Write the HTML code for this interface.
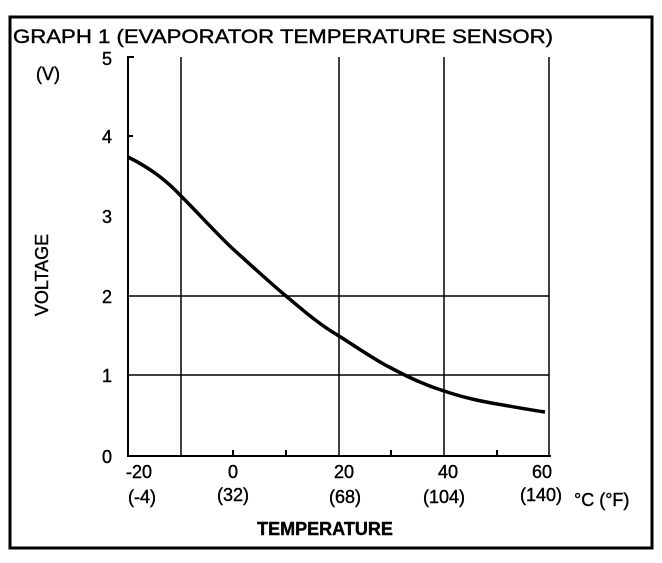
<!DOCTYPE html>
<html><head><style>
body{margin:0;background:#fff;}
svg text{font-family:"Liberation Sans",sans-serif;fill:#000;stroke:#000;stroke-width:0.4;}
</style></head><body>
<svg width="662" height="558" viewBox="0 0 662 558" xmlns="http://www.w3.org/2000/svg">
<rect x="10" y="17" width="642" height="531" fill="none" stroke="#000" stroke-width="3"/>
<text x="13" y="43" font-size="19" textLength="540" lengthAdjust="spacingAndGlyphs">GRAPH 1 (EVAPORATOR TEMPERATURE SENSOR)</text>
<text x="36" y="80" font-size="18">(V)</text>
<g font-size="18" text-anchor="middle">
<text x="107" y="65">5</text><text x="107" y="143">4</text><text x="107" y="223">3</text>
<text x="107" y="303">2</text><text x="107" y="382">1</text><text x="107" y="463">0</text>
</g>
<text transform="translate(48,275) rotate(-90)" font-size="18" text-anchor="middle">VOLTAGE</text>
<g stroke="#000" stroke-width="2" fill="none">
<line x1="128" y1="56" x2="128" y2="456"/>
<line x1="127" y1="456" x2="551" y2="456"/>
<line x1="128" y1="57" x2="134" y2="57"/>
<line x1="128" y1="136" x2="133" y2="136"/>
</g>
<g stroke="#000" stroke-width="1.5">
<line x1="181" y1="57" x2="181" y2="456"/>
<line x1="339" y1="57" x2="339" y2="456"/>
<line x1="444" y1="57" x2="444" y2="456"/>
<line x1="549" y1="57" x2="549" y2="456"/>
<line x1="128" y1="296" x2="549" y2="296"/>
<line x1="128" y1="375" x2="549" y2="375"/>
<line x1="233" y1="456" x2="233" y2="450" stroke-width="2"/>
<line x1="286" y1="456" x2="286" y2="450" stroke-width="2"/>
<line x1="391" y1="456" x2="391" y2="450" stroke-width="2"/>
<line x1="497" y1="456" x2="497" y2="450" stroke-width="2"/>
</g>
<path d="M128,157 C150,168 166,180 181,196 C200,215 215,232 233,249 C252,266 268,281 286,296 C305,312 320,325 339,336 C358,348 375,360 391,368 C410,378 425,385 444,391 C465,398 480,401 497,404 C515,407 530,410 545,412" fill="none" stroke="#000" stroke-width="3.5"/>
<g font-size="18" text-anchor="middle">
<text x="139" y="478">-20</text><text x="233" y="478">0</text><text x="344" y="478">20</text>
<text x="448" y="478">40</text><text x="542" y="478">60</text>
<text x="142" y="503">(-4)</text><text x="233" y="501">(32)</text><text x="345" y="503">(68)</text>
<text x="444" y="503">(104)</text><text x="541" y="501">(140)</text>
</g>
<text x="574" y="506" font-size="18">°C (°F)</text>
<text x="325" y="535" font-size="18" font-weight="bold" text-anchor="middle">TEMPERATURE</text>
</svg>
</body></html>
